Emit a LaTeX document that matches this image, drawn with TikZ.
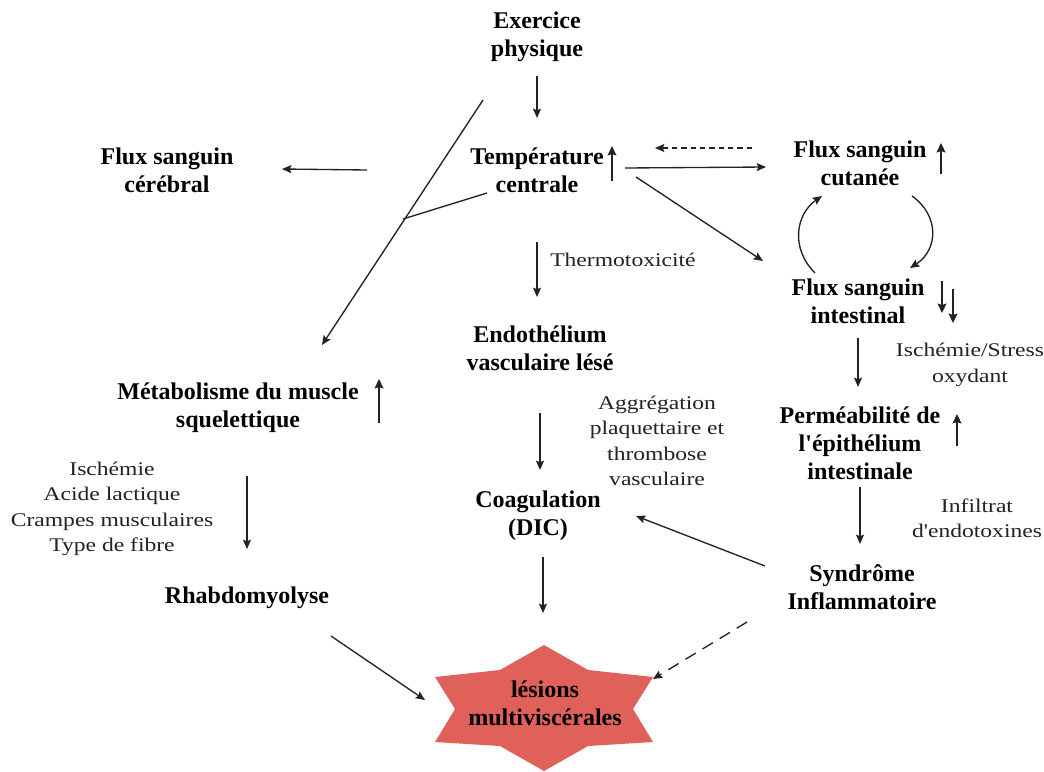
\documentclass[tikz,border=0pt]{standalone}
\usepackage{fontspec}
\setmainfont{Liberation Serif}[Ligatures=TeXOff]
\newfontfamily\wideserif[FakeStretch=1.22,Ligatures=TeXOff]{Liberation Serif}
\usetikzlibrary{arrows.meta}
\definecolor{starred}{RGB}{224,96,90}
\definecolor{ink}{RGB}{34,34,34}
\tikzset{
 lbl/.style={font=\fontsize{18}{21}\selectfont\bfseries, align=center, inner sep=0pt, text=black},
 note/.style={font=\wideserif\fontsize{14.5}{19}\selectfont, align=center, inner sep=0pt, text=ink},
 conn/.style={draw=ink, line width=1pt, -{Stealth[length=7pt,width=6pt,inset=1.2pt]}},
 plain/.style={draw=ink, line width=1pt},
 dashconn/.style={conn, dash pattern=on 4pt off 3pt},
 longdash/.style={conn, dash pattern=on 9pt off 6pt},
 updown/.style={draw=ink, line width=1.6pt, -{Stealth[length=7pt,width=6.5pt,inset=1pt]}},
}
\begin{document}
\begin{tikzpicture}[x=0.75pt,y=-0.75pt]
\path[use as bounding box, fill=white] (0,0) rectangle (1044,771);

% star
\fill[starred] (544,645) -- (588,670) -- (653,677) -- (633,709) -- (653,742) -- (588,746)
  -- (544,771) -- (500,746) -- (435,742) -- (455,709) -- (435,677) -- (500,670) -- cycle;
\node[lbl] (star) at (545,703) {lésions\\multiviscérales};

% main labels
\node[lbl] (ex) at (537,37) {Exercice\\physique};
\node[lbl] (temp) at (537,170) {Température\\centrale};
\node[lbl] (cereb) at (167,170) {Flux sanguin\\cérébral};
\node[lbl] (cut) at (860,163) {Flux sanguin\\cutanée};
\node[lbl] (intest) at (858,301) {Flux sanguin\\intestinal};
\node[lbl] (endo) at (540,348) {Endothélium\\vasculaire lésé};
\node[lbl] (coag) at (538,516) {Coagulation\\(DIC)};
\node[lbl] (meta) at (238,408) {Métabolisme du muscle\\squelettique};
\node[lbl] (rhabdo) at (247,598) {Rhabdomyolyse};
\node[lbl] (perm) at (860,443) {Perméabilité de\\l'épithélium\\intestinale};
\node[lbl] (synd) at (862,587) {Syndrôme\\Inflammatoire};

% notes
\node[note, anchor=west] (thermo) at (550,260) {Thermotoxicité};
\node[note] (aggr) at (657,441) {Aggrégation\\plaquettaire et\\thrombose\\vasculaire};
\node[note] (isch) at (970,365) {Ischémie/Stress\\oxydant};
\node[note] (infil) at (977,518) {Infiltrat\\d'endotoxines};
\node[note] (causes) at (112,509) {Ischémie\\Acide lactique\\Crampes musculaires\\Type de fibre};

% coordinates for connectors
\coordinate (exA) at (537,76);   \coordinate (tempA) at (537,118);
\coordinate (lineTop) at (483,100); \coordinate (metaA) at (322,345);
\coordinate (tempB) at (487,193); \coordinate (junc) at (403,219);
\coordinate (cerebA) at (367,170); \coordinate (cerebB) at (282,169);
\coordinate (cutD) at (752,148); \coordinate (tempD) at (655,148);
\coordinate (tempC) at (625,168); \coordinate (cutA) at (766,167);
\coordinate (tempE) at (636,177); \coordinate (intestA) at (763,261);
\coordinate (intL) at (815,273); \coordinate (cutL) at (822,196);
\coordinate (cutR) at (912,196); \coordinate (intR) at (910,268);
\coordinate (thA) at (537,242); \coordinate (endoA) at (537,297);
\coordinate (endoB) at (540,413); \coordinate (coagA) at (540,470);
\coordinate (coagB) at (543,557); \coordinate (starA) at (543,613);
\coordinate (intestB) at (858,338); \coordinate (permA) at (858,387);
\coordinate (permB) at (860,487); \coordinate (syndA) at (860,544);
\coordinate (syndB) at (765,566); \coordinate (coagC) at (636,516);
\coordinate (syndC) at (747,622); \coordinate (starB) at (653,679);
\coordinate (rhabB) at (331,636); \coordinate (starC) at (425,700);
\coordinate (metaB) at (247,476); \coordinate (rhabA) at (247,549);

% connectors
\draw[conn] (exA) -- (tempA);
\draw[conn] (lineTop) -- (metaA);
\draw[plain] (tempB) -- (junc);
\draw[conn] (cerebA) -- (cerebB);
\draw[dashconn] (cutD) -- (tempD);
\draw[conn] (tempC) -- (cutA);
\draw[conn] (tempE) -- (intestA);
\draw[conn] (intL) .. controls (790,248) and (796,214) .. (cutL);
\draw[conn] (cutR) .. controls (940,216) and (938,250) .. (intR);
\draw[conn] (thA) -- (endoA);
\draw[conn] (endoB) -- (coagA);
\draw[conn] (coagB) -- (starA);
\draw[conn] (intestB) -- (permA);
\draw[conn] (permB) -- (syndA);
\draw[conn] (syndB) -- (coagC);
\draw[longdash] (syndC) -- (starB);
\draw[conn] (rhabB) -- (starC);
\draw[conn] (metaB) -- (rhabA);

% small trend arrows
\coordinate (upT1) at (612,181); \coordinate (upT2) at (612,146);
\draw[updown] (upT1) -- (upT2);
\coordinate (upC1) at (941,174); \coordinate (upC2) at (941,143);
\draw[updown] (upC1) -- (upC2);
\coordinate (dnA1) at (942,281); \coordinate (dnA2) at (942,313);
\draw[updown] (dnA1) -- (dnA2);
\coordinate (dnB1) at (953,289); \coordinate (dnB2) at (953,323);
\draw[updown] (dnB1) -- (dnB2);
\coordinate (upP1) at (957,446); \coordinate (upP2) at (957,414);
\draw[updown] (upP1) -- (upP2);
\coordinate (upM1) at (379,423); \coordinate (upM2) at (379,379);
\draw[updown] (upM1) -- (upM2);
\end{tikzpicture}
\end{document}
